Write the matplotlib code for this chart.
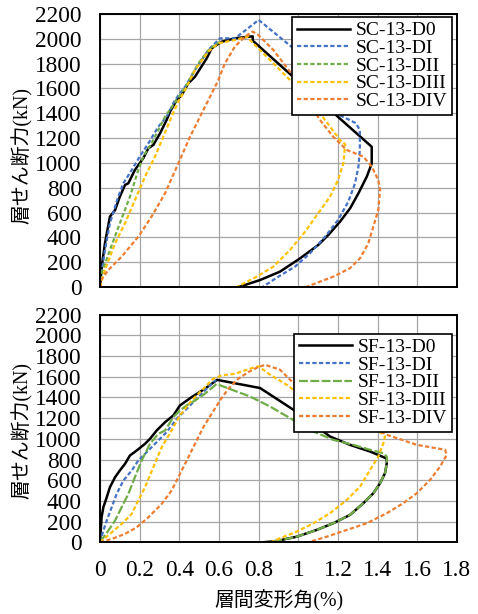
import matplotlib
matplotlib.use("Agg")
import matplotlib.pyplot as plt

plt.rcParams['font.family'] = ['Liberation Serif', 'Noto Sans CJK JP']

# ---- data: upper panel (SC-13) ----
sc_names = ["SC-13-D0", "SC-13-DI", "SC-13-DII", "SC-13-DIII", "SC-13-DIV"]

sc_d0_x = [0, 0.01, 0.025, 0.05, 0.076, 0.1, 0.126, 0.143, 0.176, 0.218, 0.244, 0.269, 0.303, 0.336, 0.353,
           0.387, 0.412, 0.445, 0.479, 0.538, 0.563, 0.614, 0.68, 0.756, 0.77, 0.77, 1.19, 1.37, 1.37, 1.345,
           1.303, 1.261, 1.21, 1.151, 1.10, 1.009, 0.908, 0.807, 0.70]
sc_d0_y = [0, 180, 352, 567, 620, 728, 822, 836, 943, 1037, 1118, 1145, 1239, 1346, 1413,
           1507, 1547, 1641, 1695, 1843, 1924, 1977, 2004, 2018, 2020, 1985, 1385, 1130, 995, 889,
           755, 634, 526, 419, 338, 231, 124, 56, 0]

sc_d1_x = [0, 0.005, 0.025, 0.05, 0.092, 0.118, 0.16, 0.2, 0.244, 0.294, 0.336, 0.378, 0.429, 0.479, 0.546,
           0.605, 0.68, 0.714, 0.80, 0.97, 1.19, 1.29, 1.31, 1.31, 1.303, 1.286, 1.252, 1.20, 1.135, 1.059,
           0.983, 0.899, 0.82]
sc_d1_y = [0, 83, 298, 513, 728, 836, 943, 1050, 1158, 1292, 1373, 1507, 1614, 1749, 1910,
           2004, 2004, 2045, 2152, 1930, 1400, 1320, 1265, 1104, 970, 836, 688, 540, 405, 272,
           164, 83, 0]

sc_d2_x = [0, 0.008, 0.05, 0.1, 0.151, 0.193, 0.218, 0.26, 0.328, 0.387, 0.437, 0.496, 0.555, 0.61]
sc_d2_y = [0, 110, 298, 513, 728, 943, 1050, 1158, 1373, 1507, 1628, 1803, 1924, 1980]

sc_d3_x = [0, 0.025, 0.076, 0.126, 0.176, 0.227, 0.277, 0.319, 0.361, 0.395, 0.429, 0.479, 0.546, 0.597,
           0.68, 0.748, 0.756, 0.958, 1.109, 1.16, 1.21, 1.236, 1.227, 1.20, 1.16, 1.10, 1.034, 0.958,
           0.874, 0.79, 0.69]
sc_d3_y = [0, 137, 352, 513, 701, 889, 1050, 1211, 1373, 1494, 1588, 1749, 1897, 1964,
           1991, 2018, 1991, 1668, 1400, 1292, 1185, 1150, 997, 862, 728, 594, 446, 298,
           164, 83, 0]

sc_d4_x = [0, 0.005, 0.042, 0.109, 0.193, 0.26, 0.328, 0.395, 0.454, 0.513, 0.555, 0.597, 0.63, 0.68,
           0.731, 0.77, 0.798, 0.874, 0.958, 1.109, 1.176, 1.244, 1.328, 1.37, 1.403, 1.412, 1.403,
           1.378, 1.353, 1.311, 1.26, 1.176, 1.109, 1.04]
sc_d4_y = [0, 56, 137, 244, 405, 567, 755, 997, 1211, 1400, 1534, 1668, 1803, 1937,
           2018, 2058, 2031, 1910, 1735, 1346, 1211, 1104, 1050, 970, 862, 782, 620,
           486, 352, 231, 151, 83, 43, 0]

# ---- data: lower panel (SF-13) ----
sf_names = ["SF-13-D0", "SF-13-DI", "SF-13-DII", "SF-13-DIII", "SF-13-DIV"]

sf_d0_x = [0, 0.008, 0.017, 0.034, 0.05, 0.076, 0.1, 0.126, 0.151, 0.185, 0.227, 0.252, 0.286, 0.328,
           0.37, 0.403, 0.462, 0.529, 0.59, 0.807, 0.975, 1.16, 1.26, 1.362, 1.445, 1.446, 1.437,
           1.412, 1.378, 1.328, 1.26, 1.176, 1.092, 0.992, 0.891, 0.824]
sf_d0_y = [0, 242, 339, 435, 532, 629, 694, 758, 839, 887, 952, 1000, 1081, 1161,
           1226, 1323, 1403, 1484, 1570, 1491, 1281, 1022, 942, 877, 810, 765, 668,
           571, 474, 378, 264, 184, 119, 54, 13, 0]

sf_d1_x = [0, 0.017, 0.034, 0.059, 0.084, 0.118, 0.16, 0.193, 0.244, 0.294, 0.336, 0.387, 0.429, 0.479,
           0.529, 0.571, 0.585]
sf_d1_y = [0, 113, 210, 339, 468, 597, 694, 790, 887, 984, 1065, 1194, 1274, 1371,
           1468, 1548, 1570]

sf_d2_x = [0, 0.042, 0.076, 0.109, 0.143, 0.176, 0.21, 0.252, 0.294, 0.328, 0.37, 0.403, 0.437, 0.479,
           0.529, 0.588, 0.756, 0.857, 0.958, 1.076, 1.176, 1.277, 1.362, 1.429, 1.446, 1.446, 1.437,
           1.412, 1.378, 1.328, 1.26, 1.176, 1.092, 0.992, 0.891, 0.824]
sf_d2_y = [0, 113, 210, 339, 468, 629, 790, 952, 1048, 1081, 1210, 1274, 1323, 1371,
           1436, 1530, 1409, 1313, 1200, 1071, 990, 942, 894, 861, 829, 765, 668,
           571, 474, 378, 264, 184, 119, 54, 13, 0]

sf_d3_x = [0, 0.05, 0.109, 0.16, 0.193, 0.227, 0.269, 0.311, 0.361, 0.403, 0.462, 0.513, 0.571, 0.613,
           0.681, 0.731, 0.782, 0.80, 0.857, 0.941, 0.975, 1.378, 1.42, 1.437, 1.429, 1.403, 1.362,
           1.311, 1.244, 1.16, 1.076, 0.992, 0.908, 0.86]
sf_d3_y = [0, 81, 177, 274, 403, 532, 726, 919, 1081, 1226, 1371, 1468, 1581, 1613,
           1629, 1661, 1694, 1700, 1620, 1523, 1474, 1087, 1055, 1022, 958, 829, 700,
           538, 409, 281, 184, 103, 39, 0]

sf_d4_x = [0, 0.059, 0.126, 0.185, 0.244, 0.311, 0.361, 0.395, 0.437, 0.479, 0.521, 0.563, 0.605, 0.647,
           0.697, 0.748, 0.798, 0.833, 0.908, 0.975, 1.446, 1.496, 1.597, 1.74, 1.748, 1.715, 1.664,
           1.597, 1.529, 1.446, 1.345, 1.244, 1.143, 1.05]
sf_d4_y = [0, 32, 81, 145, 242, 371, 500, 629, 790, 952, 1113, 1242, 1371, 1484,
           1581, 1645, 1694, 1715, 1668, 1539, 1039, 1007, 942, 894, 845, 732, 603,
           474, 378, 281, 184, 119, 54, 0]

x_ticks = [0, 0.2, 0.4, 0.6, 0.8, 1.0, 1.2, 1.4, 1.6, 1.8]
x_labels = ["0", "0.2", "0.4", "0.6", "0.8", "1", "1.2", "1.4", "1.6", "1.8"]
y_ticks = list(range(0, 2201, 200))

colors = ["black", "#4472C4", "#70AD47", "#FFC000", "#ED7D31"]

fig = plt.figure(figsize=(4.78, 6.14), dpi=100)
ax1 = fig.add_axes([0.2092, 0.5326, 0.7469, 0.4446])
ax2 = fig.add_axes([0.2092, 0.1168, 0.7469, 0.3707])

short = (1.9, 1.1)


def draw(ax, series, names, green_dash):
    styles = [None, short, green_dash, short, short]
    for (xs, ys), name, c, d in zip(series, names, colors, styles):
        if d is None:
            ax.plot(xs, ys, color=c, lw=1.8, label=name)
        else:
            ax.plot(xs, ys, color=c, lw=1.6, dashes=d, label=name)
    ax.set_xlim(0, 1.8)
    ax.set_ylim(0, 2200)
    ax.set_xticks(x_ticks)
    ax.set_yticks(y_ticks)
    ax.grid(True, color="#A6A6A6", lw=0.9)
    ax.set_axisbelow(True)
    for s in ax.spines.values():
        s.set_linewidth(1.4)
        s.set_color("black")
    ax.tick_params(length=0, labelsize=16.8, pad=13)
    ax.set_ylabel("層せん断力(kN)", fontsize=14.3)


def legend(ax, top):
    leg = ax.legend(loc="upper right", bbox_to_anchor=(0.986, top), borderaxespad=0, fontsize=14,
                    fancybox=False, edgecolor="black", framealpha=1, handlelength=2.7, labelspacing=0.0,
                    borderpad=0.25, handletextpad=0.3)
    leg.get_frame().set_linewidth(1.2)


draw(ax1, [(sc_d0_x, sc_d0_y), (sc_d1_x, sc_d1_y), (sc_d2_x, sc_d2_y), (sc_d3_x, sc_d3_y), (sc_d4_x, sc_d4_y)],
     sc_names, short)
ax1.set_xticklabels([])
ax1.yaxis.set_label_coords(-0.188, 0.48)
legend(ax1, 0.989)

draw(ax2, [(sf_d0_x, sf_d0_y), (sf_d1_x, sf_d1_y), (sf_d2_x, sf_d2_y), (sf_d3_x, sf_d3_y), (sf_d4_x, sf_d4_y)],
     sf_names, (4.0, 1.1))
ax2.set_xticklabels(x_labels)
ax2.set_xlabel("層間変形角(%)", fontsize=14.3, labelpad=6)
ax2.yaxis.set_label_coords(-0.188, 0.49)
legend(ax2, 0.916)

fig.savefig("out.png", dpi=100)
